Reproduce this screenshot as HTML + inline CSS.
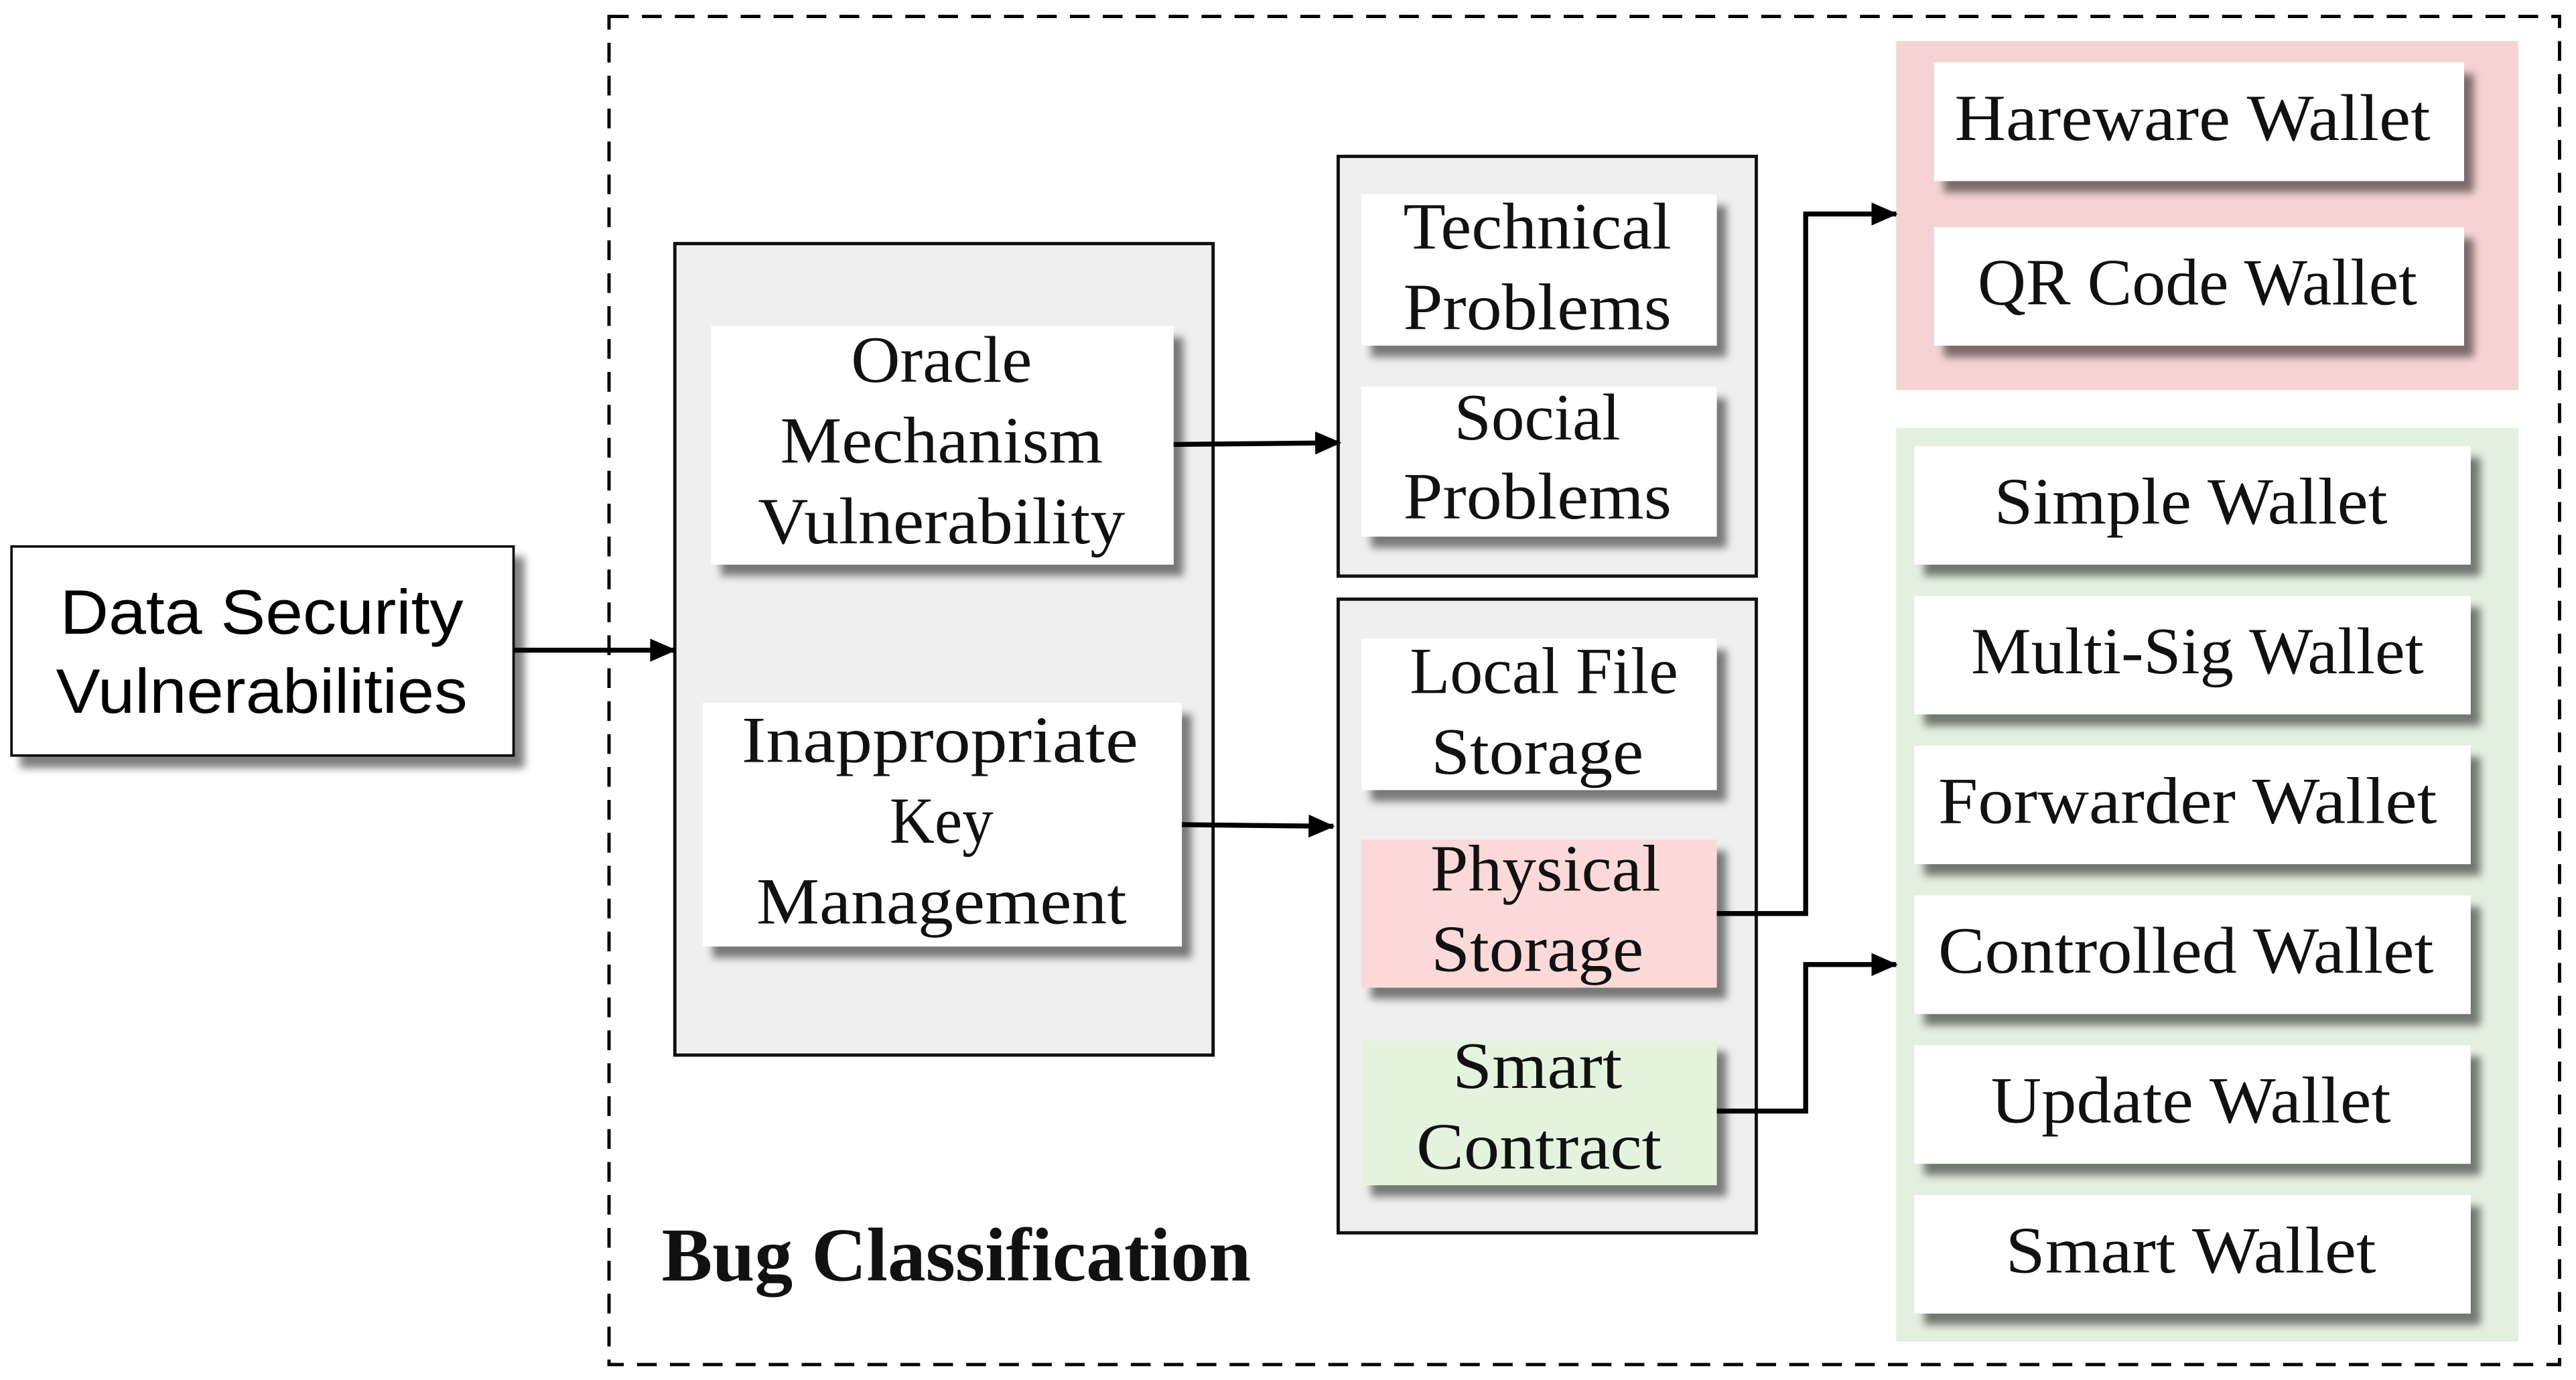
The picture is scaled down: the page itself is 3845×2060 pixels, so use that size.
<!DOCTYPE html>
<html><head><style>html,body{margin:0;padding:0;background:#fff}svg{display:block}</style></head>
<body>
<svg width="3845" height="2060" viewBox="0 0 1565 838.4" preserveAspectRatio="none" xmlns="http://www.w3.org/2000/svg">
<defs>
<filter id="sh" x="-10%" y="-10%" width="130%" height="140%">
<feGaussianBlur in="SourceAlpha" stdDeviation="2.5"/>
<feOffset dx="6" dy="7" result="b"/>
<feComponentTransfer><feFuncA type="linear" slope="0.5"/></feComponentTransfer>
<feMerge><feMergeNode/><feMergeNode in="SourceGraphic"/></feMerge>
</filter>
<marker id="ar" markerWidth="16" markerHeight="16" refX="15" refY="8" orient="auto" markerUnits="userSpaceOnUse">
<path d="M0,1 L16,8 L0,15 z" fill="#000"/>
</marker>
</defs>
<rect width="1565" height="840" fill="#fff"/>
<rect x="370" y="10" width="1185" height="819" fill="none" stroke="#000" stroke-width="2" stroke-dasharray="12,8"/>
<rect x="7" y="332" width="305" height="127" fill="#fff" stroke="#111" stroke-width="1.5" filter="url(#sh)"/>
<g font-family="'Liberation Sans Narrow','Liberation Sans',sans-serif" font-size="38" text-anchor="middle">
<text x="159" y="385" textLength="245" lengthAdjust="spacingAndGlyphs">Data Security</text>
<text x="159" y="433" textLength="250" lengthAdjust="spacingAndGlyphs">Vulnerabilities</text>
</g>
<rect x="410" y="148" width="327" height="493" fill="#efefef" stroke="#111" stroke-width="2"/>
<rect x="813" y="95" width="254" height="255" fill="#efefef" stroke="#111" stroke-width="2"/>
<rect x="813" y="364" width="254" height="385" fill="#efefef" stroke="#111" stroke-width="2"/>
<rect x="1152" y="25" width="378" height="212" fill="#f6d3d3"/>
<rect x="1152" y="260" width="378" height="555" fill="#e3efdf"/>
<g filter="url(#sh)">
<rect x="432" y="198" width="281" height="145" fill="#fff"/>
<rect x="427" y="427" width="291" height="148" fill="#fff"/>
<rect x="827" y="118" width="216" height="92" fill="#fff"/>
<rect x="827" y="235" width="216" height="91" fill="#fff"/>
<rect x="827" y="388" width="216" height="92" fill="#fff"/>
<rect x="827" y="510" width="216" height="90" fill="#fcd9d9"/>
<rect x="827" y="632" width="216" height="88" fill="#e4f3de"/>
<rect x="1175" y="38" width="322" height="72" fill="#fff"/>
<rect x="1175" y="138" width="322" height="72" fill="#fff"/>
<rect x="1163" y="271" width="338" height="72" fill="#fff"/>
<rect x="1163" y="362" width="338" height="72" fill="#fff"/>
<rect x="1163" y="453" width="338" height="72" fill="#fff"/>
<rect x="1163" y="544" width="338" height="72" fill="#fff"/>
<rect x="1163" y="635" width="338" height="72" fill="#fff"/>
<rect x="1163" y="726" width="338" height="72" fill="#fff"/>
</g>
<g font-family="'Liberation Serif',serif" font-size="40" text-anchor="middle" fill="#111" lengthAdjust="spacingAndGlyphs">
<text x="572" y="232" textLength="110" lengthAdjust="spacingAndGlyphs">Oracle</text>
<text x="572" y="281" textLength="196" lengthAdjust="spacingAndGlyphs">Mechanism</text>
<text x="572" y="330" textLength="223" lengthAdjust="spacingAndGlyphs">Vulnerability</text>
<text x="571" y="463" textLength="241" lengthAdjust="spacingAndGlyphs">Inappropriate</text>
<text x="572" y="512" textLength="63" lengthAdjust="spacingAndGlyphs">Key</text>
<text x="572" y="561" textLength="225" lengthAdjust="spacingAndGlyphs">Management</text>
<text x="934" y="151" textLength="163" lengthAdjust="spacingAndGlyphs">Technical</text>
<text x="934" y="200" textLength="163" lengthAdjust="spacingAndGlyphs">Problems</text>
<text x="934" y="267" textLength="101" lengthAdjust="spacingAndGlyphs">Social</text>
<text x="934" y="315" textLength="163" lengthAdjust="spacingAndGlyphs">Problems</text>
<text x="938" y="421" textLength="163" lengthAdjust="spacingAndGlyphs">Local File</text>
<text x="934" y="470" textLength="129" lengthAdjust="spacingAndGlyphs">Storage</text>
<text x="939" y="541" textLength="140" lengthAdjust="spacingAndGlyphs">Physical</text>
<text x="934" y="590" textLength="129" lengthAdjust="spacingAndGlyphs">Storage</text>
<text x="934" y="661" textLength="103" lengthAdjust="spacingAndGlyphs">Smart</text>
<text x="935" y="710" textLength="149" lengthAdjust="spacingAndGlyphs">Contract</text>
<text x="1332" y="85" textLength="289" lengthAdjust="spacingAndGlyphs">Hareware Wallet</text>
<text x="1335" y="185" textLength="267" lengthAdjust="spacingAndGlyphs">QR Code Wallet</text>
<text x="1331" y="318" textLength="239" lengthAdjust="spacingAndGlyphs">Simple Wallet</text>
<text x="1335" y="409" textLength="275" lengthAdjust="spacingAndGlyphs">Multi-Sig Wallet</text>
<text x="1329" y="500" textLength="303" lengthAdjust="spacingAndGlyphs">Forwarder Wallet</text>
<text x="1328" y="591" textLength="301" lengthAdjust="spacingAndGlyphs">Controlled Wallet</text>
<text x="1331" y="682" textLength="243" lengthAdjust="spacingAndGlyphs">Update Wallet</text>
<text x="1331" y="773" textLength="225" lengthAdjust="spacingAndGlyphs">Smart Wallet</text>
</g>
<text x="402" y="778" font-family="'Liberation Serif',serif" font-weight="bold" font-size="46" fill="#111" textLength="358" lengthAdjust="spacingAndGlyphs">Bug Classification</text>
<g stroke="#000" stroke-width="3" fill="none" marker-end="url(#ar)">
<path d="M312,395 H410"/>
<path d="M713,270 L814,269"/>
<path d="M718,501 L810,502"/>
<path d="M1043,555 H1097 V130 H1152"/>
<path d="M1043,675 H1097 V586 H1152"/>
</g>
</svg>
</body></html>
